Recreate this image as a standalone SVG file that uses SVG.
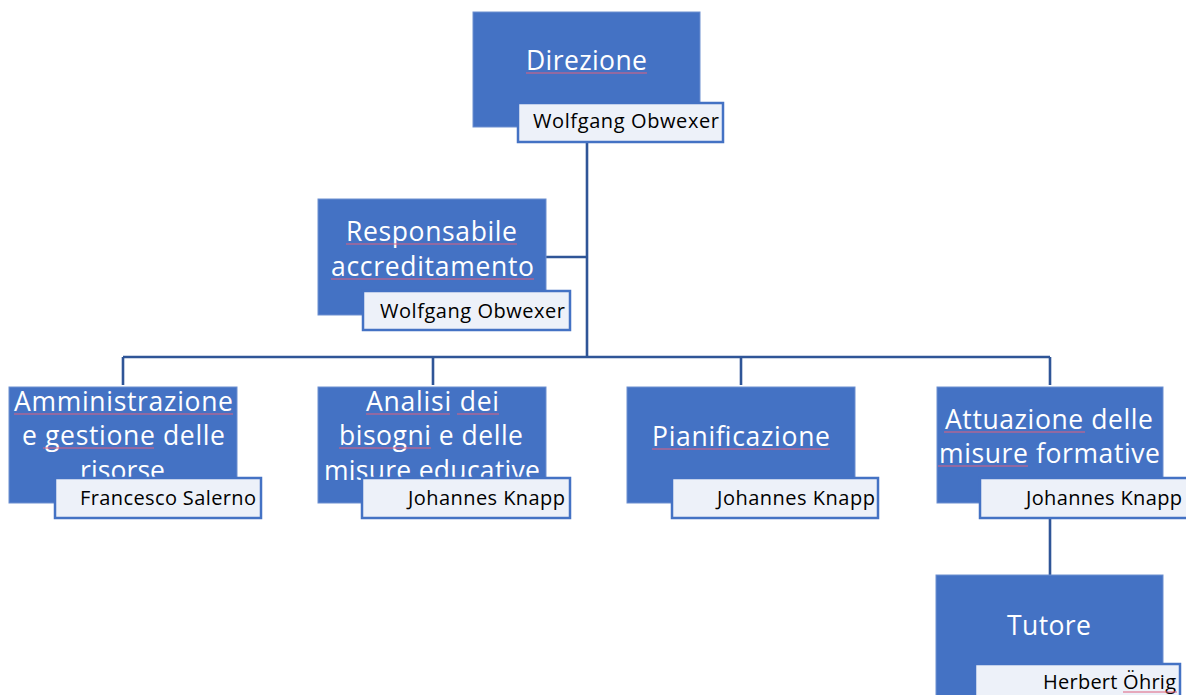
<svg xmlns="http://www.w3.org/2000/svg" width="1186" height="695" viewBox="0 0 1186 695">
<style>
.box{fill:#4472c4;stroke:#6d8fd0;stroke-width:1}
.nm{fill:#edf1f9;stroke:#4472c4;stroke-width:2.5}
.t{font-family:"Open Sans","Liberation Sans",sans-serif;font-size:26.5px;fill:#ffffff}
.n{font-family:"Open Sans","Liberation Sans",sans-serif;font-size:20px;fill:#000000;text-anchor:end}
.sp{stroke:#e0607e;stroke-width:1.2;fill:none}
.c{stroke:#2f5597;stroke-width:2.6;fill:none}
</style>
<rect width="1186" height="695" fill="#ffffff"/>
<g id="connectors">
<path class="c" d="M587 143V357M546 257H587M123 357H1050M123 357V385M433 357V385M741 357V385M1050 357V385M1050 518V575"/>
</g>
<g id="direzione">
<rect class="box" x="473" y="12" width="227" height="115"/>
<text class="t" x="526" y="70" textLength="121">Direzione</text>
<line class="sp" x1="526" y1="73" x2="647" y2="73"/>
<rect class="nm" x="518" y="103" width="205" height="39"/>
<text class="n" x="719" y="128" textLength="186">Wolfgang Obwexer</text>
</g>
<g id="responsabile">
<rect class="box" x="318" y="199" width="228" height="116"/>
<text class="t" x="346" y="241" textLength="171">Responsabile</text>
<text class="t" x="331" y="276" textLength="203">accreditamento</text>
<line class="sp" x1="346" y1="244" x2="517" y2="244"/>
<line class="sp" x1="331" y1="279" x2="534" y2="279"/>
<rect class="nm" x="363" y="291" width="207" height="39"/>
<text class="n" x="565" y="318" textLength="185">Wolfgang Obwexer</text>
</g>
<g id="amministrazione">
<rect class="box" x="9" y="387" width="228" height="116"/>
<text class="t" x="14" y="411" textLength="219">Amministrazione</text>
<text class="t" x="22" y="445" textLength="203">e gestione delle</text>
<text class="t" x="80" y="480" textLength="85">risorse</text>
<line class="sp" x1="14" y1="414" x2="233" y2="414"/>
<line class="sp" x1="43" y1="448" x2="154" y2="448"/>
<rect class="nm" x="55" y="478" width="206" height="40"/>
<text class="n" x="256" y="505" textLength="176">Francesco Salerno</text>
</g>
<g id="analisi">
<rect class="box" x="318" y="387" width="228" height="116"/>
<text class="t" x="366" y="411" textLength="133">Analisi dei</text>
<text class="t" x="339" y="445" textLength="184">bisogni e delle</text>
<text class="t" x="324" y="480" textLength="216">misure educative</text>
<line class="sp" x1="366" y1="414" x2="450" y2="414"/>
<line class="sp" x1="457" y1="414" x2="499" y2="414"/>
<line class="sp" x1="339" y1="448" x2="431" y2="448"/>
<rect class="nm" x="362" y="478" width="208" height="40"/>
<text class="n" x="565" y="505" textLength="157">Johannes Knapp</text>
</g>
<g id="pianificazione">
<rect class="box" x="627" y="387" width="228" height="116"/>
<text class="t" x="652" y="446" textLength="178">Pianificazione</text>
<line class="sp" x1="652" y1="449" x2="830" y2="449"/>
<rect class="nm" x="672" y="478" width="206" height="40"/>
<text class="n" x="875" y="505" textLength="158">Johannes Knapp</text>
</g>
<g id="attuazione">
<rect class="box" x="937" y="387" width="226" height="116"/>
<text class="t" x="945" y="429" textLength="208">Attuazione delle</text>
<text class="t" x="939" y="463" textLength="221">misure formative</text>
<line class="sp" x1="944" y1="432" x2="1085" y2="432"/>
<line class="sp" x1="938" y1="466" x2="1028" y2="466"/>
<rect class="nm" x="980" y="478" width="210" height="40"/>
<text class="n" x="1182" y="505" textLength="156">Johannes Knapp</text>
</g>
<g id="tutore">
<rect class="box" x="936" y="575" width="227" height="130"/>
<text class="t" x="1007" y="635" textLength="84">Tutore</text>
<rect class="nm" x="975" y="664" width="205" height="40"/>
<text class="n" x="1176" y="689" textLength="133">Herbert Öhrig</text>
<line class="sp" x1="1123" y1="692" x2="1177" y2="692"/>
</g>
</svg>
